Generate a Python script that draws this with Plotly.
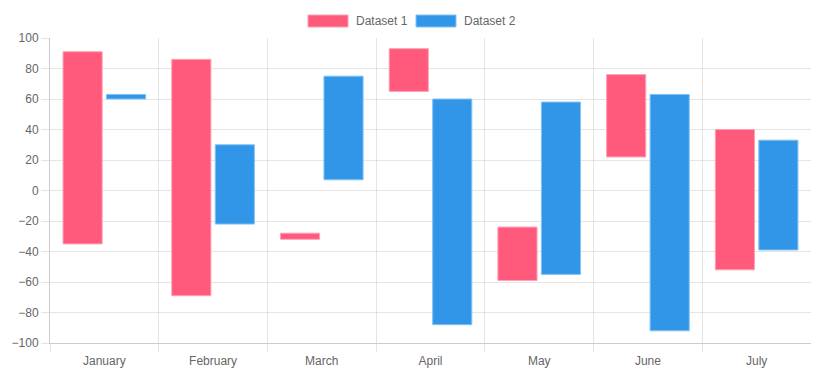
import plotly.graph_objects as go

months = ["January", "February", "March", "April", "May", "June", "July"]
d1_low = [-35, -69, -32, 65, -59, 22, -52]
d1_high = [91, 86, -28, 93, -24, 76, 40]
d2_low = [60, -22, 7, -88, -55, -92, -39]
d2_high = [63, 30, 75, 60, 58, 63, 33]
series_names = ["Dataset 1", "Dataset 2"]
red = "rgb(255, 89, 123)"
blue = "rgb(50, 150, 232)"
red_edge = "rgba(255,160,180,1)"
blue_edge = "rgba(130,195,245,1)"

fig = go.Figure()
fig.add_trace(go.Bar(
    x=months, y=[h - l for h, l in zip(d1_high, d1_low)], base=d1_low,
    name=series_names[0], marker=dict(color=red, line=dict(width=1, color=red_edge)),
    showlegend=False,
))
fig.add_trace(go.Bar(
    x=months, y=[h - l for h, l in zip(d2_high, d2_low)], base=d2_low,
    name=series_names[1], marker=dict(color=blue, line=dict(width=1, color=blue_edge)),
    showlegend=False,
))

font = dict(family="Liberation Sans, Arial, sans-serif", size=12, color="#666")
grid = "rgba(0,0,0,0.1)"

# page body has an 8px margin, so the figure is drawn 8px smaller and offset
OFF = 8
W, H = 831 - OFF, 378 - OFF
ml, mr, mt, mb = 50 - OFF, 20, 38 - OFF, 35
pw, ph = W - ml - mr, H - mt - mb
def px(x):
    return (x - OFF - ml) / pw
def py(y):
    return (H - mb - (y - OFF)) / ph
shapes = []
annotations = []
for i, (x0, col, lc) in enumerate([(308, red, red_edge), (416, blue, blue_edge)]):
    shapes.append(dict(type="rect", xref="paper", yref="paper",
                       x0=px(x0), x1=px(x0 + 40), y0=py(27), y1=py(15),
                       fillcolor=col, line=dict(color=lc, width=1)))
    annotations.append(dict(xref="paper", yref="paper", x=px(x0 + 46), y=py(21),
                            text=series_names[i], showarrow=False, xanchor="left",
                            yanchor="middle", font=font))
# hide the right-most boundary grid line / tick (Chart.js doesn't draw it)
shapes.append(dict(type="line", xref="paper", yref="paper", x0=1.002, x1=1.002,
                   y0=py(352), y1=py(36), line=dict(color="white", width=3), layer="above"))

fig.update_layout(
    width=W, height=H,
    margin=dict(l=ml, r=mr, t=mt, b=mb),
    paper_bgcolor="white", plot_bgcolor="white",
    barmode="group", bargap=0.2, bargroupgap=0.1,
    font=font,
    shapes=shapes, annotations=annotations,
    xaxis=dict(tickson="boundaries", showgrid=True, gridcolor=grid, gridwidth=1,
               ticks="outside", ticklen=8, tickcolor=grid, ticklabelstandoff=7,
               showline=True, linecolor="rgba(0,0,0,0.2)", linewidth=1,
               tickfont=font, zeroline=False, automargin=False),
    yaxis=dict(range=[-100, 100], dtick=20, showgrid=True, gridcolor=grid, gridwidth=1,
               ticks="outside", ticklen=8, tickcolor=grid,
               showline=True, linecolor="rgba(0,0,0,0.2)", linewidth=1,
               zeroline=False, tickfont=font, automargin=False),
)

fig.write_html("out.html")
